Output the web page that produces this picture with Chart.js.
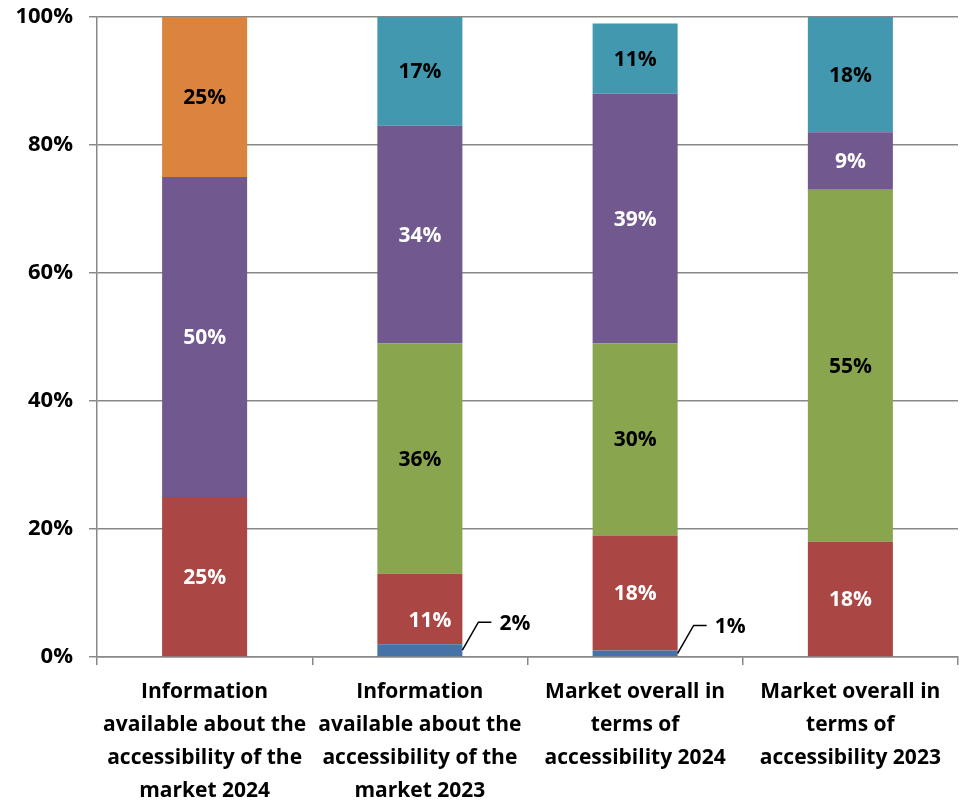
<!DOCTYPE html>
<html>
<head>
<meta charset="utf-8">
<script src="https://cdn.jsdelivr.net/npm/chart.js@4/dist/chart.umd.min.js"></script>
<style>
  html, body { margin: 0; padding: 0; background: #fff; }
  #wrap { width: 963px; height: 801px; position: relative; }
</style>
</head>
<body>
<div id="wrap"><canvas id="chart"></canvas></div>
<script>
const categories = [
  ['Information', 'available about the', 'accessibility of the', 'market 2024'],
  ['Information', 'available about the', 'accessibility of the', 'market 2023'],
  ['Market overall in', 'terms of', 'accessibility 2024'],
  ['Market overall in', 'terms of', 'accessibility 2023']
];
const blueVals   = [0, 2, 1, 0];
const redVals    = [25, 11, 18, 18];
const greenVals  = [0, 36, 30, 55];
const purpleVals = [50, 34, 39, 9];
const orangeVals = [25, 0, 0, 0];
const tealVals   = [0, 17, 11, 18];
const yTicks = [0, 20, 40, 60, 80, 100];

const FONT = '"Open Sans", "Noto Sans", sans-serif';

// series: values, fill, label text colour
const series = [
  { data: blueVals,   bg: '#4572A7', txt: '#000' },
  { data: redVals,    bg: '#AA4643', txt: '#fff' },
  { data: greenVals,  bg: '#89A54E', txt: '#000' },
  { data: purpleVals, bg: '#71588F', txt: '#fff' },
  { data: orangeVals, bg: '#DB843D', txt: '#000' },
  { data: tealVals,   bg: '#4198AF', txt: '#000' }
];

// draws the % labels; small segments get a leader line to the right
const barLabels = {
  id: 'barLabels',
  afterDatasetsDraw(chart, args, opts) {
    const ctx = chart.ctx;
    const nudge = opts.nudge || {};
    ctx.save();
    ctx.font = 'bold 21px ' + FONT;
    ctx.textBaseline = 'middle';
    chart.data.datasets.forEach((ds, di) => {
      const meta = chart.getDatasetMeta(di);
      meta.data.forEach((bar, i) => {
        const v = ds.data[i];
        if (!v) return;
        const txt = v + '%';
        const h = Math.abs(bar.base - bar.y);
        if (h < 22) {
          const x0 = bar.x + bar.width / 2;
          const y0 = (bar.y + bar.base) / 2;
          ctx.strokeStyle = '#000';
          ctx.lineWidth = 1.5;
          ctx.beginPath();
          ctx.moveTo(x0, y0);
          ctx.lineTo(x0 + 16, y0 - 28);
          ctx.lineTo(x0 + 29, y0 - 28);
          ctx.stroke();
          ctx.fillStyle = '#000';
          ctx.textAlign = 'left';
          ctx.fillText(txt, x0 + 37, y0 - 26);
        } else {
          const d = nudge[di + ':' + i] || [0, 0];
          ctx.fillStyle = ds.labelColor;
          ctx.textAlign = 'center';
          ctx.fillText(txt, bar.x + d[0], (bar.y + bar.base) / 2 + 1 + d[1]);
        }
      });
    });
    ctx.restore();
  }
};

new Chart(document.getElementById('chart'), {
  type: 'bar',
  data: {
    labels: categories,
    datasets: series.map(s => ({
      data: s.data,
      backgroundColor: s.bg,
      labelColor: s.txt,
      borderWidth: 0,
      categoryPercentage: 1,
      barPercentage: 0.395
    }))
  },
  options: {
    responsive: true,
    maintainAspectRatio: false,
    animation: false,
    layout: { padding: { top: 17, right: 5, left: 0, bottom: 0 } },
    plugins: {
      legend: { display: false },
      tooltip: { enabled: false },
      barLabels: { nudge: { '1:1': [10, 11] } }
    },
    scales: {
      x: {
        stacked: true,
        grid: { display: true, drawOnChartArea: false, drawTicks: true, tickLength: 8, color: '#888', lineWidth: 1.5, offset: true },
        border: { color: '#888', width: 1.5 },
        ticks: {
          color: '#000',
          font: { family: FONT, size: 21, weight: 'bold', lineHeight: 1.58 },
          maxRotation: 0,
          autoSkip: false,
          padding: 10
        },
        afterFit(s) { s.height = 801 - 657; s.paddingLeft = 0; s.paddingRight = 0; }
      },
      y: {
        stacked: true,
        min: 0,
        max: 100,
        afterBuildTicks(s) { s.ticks = yTicks.map(v => ({ value: v })); },
        grid: { color: '#888', lineWidth: 1.5, tickLength: 8 },
        border: { color: '#888', width: 1.5 },
        ticks: {
          color: '#000',
          font: { family: FONT, size: 22, weight: 'bold' },
          padding: 16,
          callback: v => v + '%'
        },
        afterFit(s) { s.width = 97; s.paddingTop = 0; s.paddingBottom = 0; }
      }
    }
  },
  plugins: [barLabels]
});
</script>
</body>
</html>
